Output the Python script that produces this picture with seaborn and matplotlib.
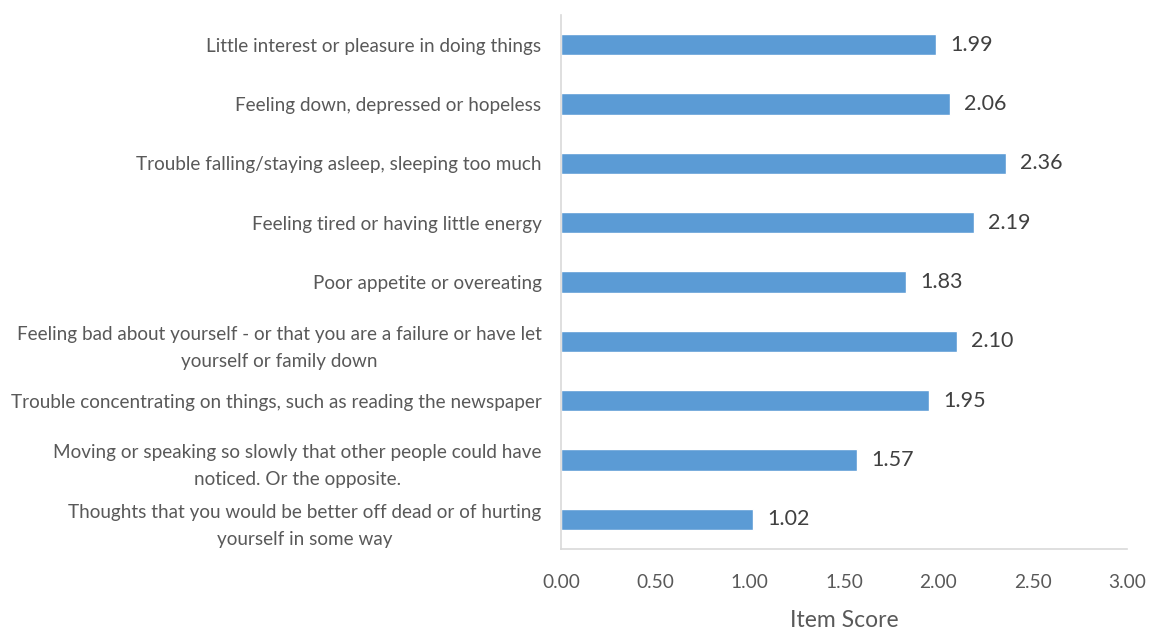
import matplotlib
matplotlib.use("Agg")
import matplotlib.pyplot as plt
import seaborn as sns
import pandas as pd

items = [
    "Little interest or pleasure in doing things",
    "Feeling down, depressed or hopeless",
    "Trouble falling/staying asleep, sleeping too much",
    "Feeling tired or having little energy",
    "Poor appetite or overeating",
    "Feeling bad about yourself - or that you are a failure or have let\nyourself or family down",
    "Trouble concentrating on things, such as reading the newspaper",
    "Moving or speaking so slowly that other people could have\nnoticed. Or the opposite.",
    "Thoughts that you would be better off dead or of hurting\nyourself in some way",
]
scores = [1.99, 2.06, 2.36, 2.19, 1.83, 2.10, 1.95, 1.57, 1.02]
x_ticks = [0.0, 0.5, 1.0, 1.5, 2.0, 2.5, 3.0]

df = pd.DataFrame({"item": items, "score": scores})

sns.set_theme(style="white")
plt.rcParams["font.family"] = ["Lato", "DejaVu Sans"]

fig = plt.figure(figsize=(11.62, 6.30), dpi=100)
ax = fig.add_axes([0.4828, 0.1286, 0.9699 - 0.4828, 0.9762 - 0.1286])

sns.barplot(data=df, x="score", y="item", orient="h", color="#5B9BD5",
            saturation=1, width=0.36, ax=ax)

ax.set_xlim(0, 3.0)
ax.set_ylim(len(items) - 0.5, -0.5)
ax.set_xticks(x_ticks)
ax.set_xticklabels([f"{t:.2f}" for t in x_ticks], fontsize=13.8, color="#595959")
ax.tick_params(axis="x", length=0, pad=18)
ax.tick_params(axis="y", length=0, pad=14)
for lbl in ax.get_yticklabels():
    lbl.set_fontsize(13.6)
    lbl.set_color("#595959")
    lbl.set_multialignment("center")
    lbl.set_linespacing(1.7)

ax.set_ylabel("")
ax.set_xlabel("Item Score", fontsize=16.5, color="#595959", labelpad=14)

for s in ["top", "right"]:
    ax.spines[s].set_visible(False)
for s in ["left", "bottom"]:
    ax.spines[s].set_color("#D9D9D9")
    ax.spines[s].set_linewidth(1.2)

for i, v in enumerate(scores):
    ax.text(v + 0.075, i, f"{v:.2f}", va="center", ha="left",
            fontsize=15.5, color="#404040")

fig.savefig("out.png", dpi=100)
